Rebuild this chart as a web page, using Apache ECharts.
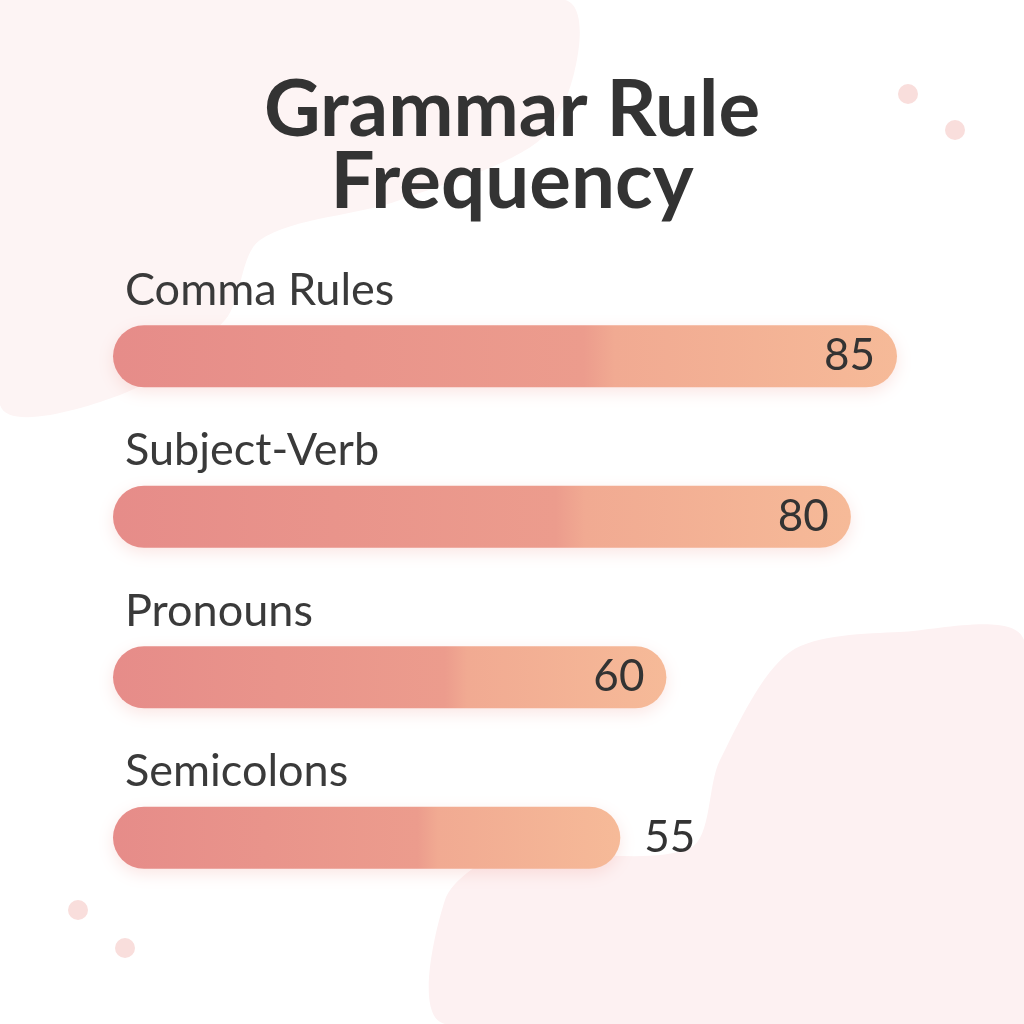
<!DOCTYPE html>
<html>
<head>
<meta charset="utf-8">
<script src="https://cdn.jsdelivr.net/npm/echarts@6/dist/echarts.min.js"></script>
<style>html,body{margin:0;padding:0;background:#fff;}#c{width:1024px;height:1024px;}</style>
</head>
<body>
<div id="c"></div>
<script>
const categories = ['Comma Rules', 'Subject-Verb', 'Pronouns', 'Semicolons'];
const values = [85, 80, 60, 55];
const titleText = 'Grammar Rule\nFrequency';

const chart = echarts.init(document.getElementById('c'), null, {renderer: 'canvas'});

const barGradient = {
  type: 'linear', x: 0, y: 0, x2: 1, y2: 0,
  colorStops: [
    {offset: 0, color: '#E68C89'},
    {offset: 0.6, color: '#EC9C8D'},
    {offset: 0.64, color: '#F1AA92'},
    {offset: 1, color: '#F6BA98'}
  ]
};

const option = {
  backgroundColor: '#ffffff',
  animation: false,
  title: {
    text: titleText,
    left: 'center',
    top: 70,
    textStyle: {
      fontFamily: 'Lato',
      fontWeight: 'bold',
      fontSize: 78,
      lineHeight: 72,
      color: '#333333'
    }
  },
  graphic: [
    {type: 'polygon', z: -10, shape: {smooth: 0.3, points: [[0,0],[565,0],[550,130],[400,200],[260,240],[225,320],[120,395],[0,405]]}, style: {fill: '#FDF4F4'}},
    {type: 'polygon', z: -10, shape: {smooth: 0.3, points: [[445,1024],[445,900],[500,856],[690,848],[720,760],[790,652],[900,632],[1024,640],[1024,1024]]}, style: {fill: '#FDF1F2'}},
    {type: 'circle', z: -5, shape: {cx: 908, cy: 94, r: 10}, style: {fill: '#F9DEDC'}},
    {type: 'circle', z: -5, shape: {cx: 955, cy: 130, r: 10}, style: {fill: '#F9DEDC'}},
    {type: 'circle', z: -5, shape: {cx: 78, cy: 910, r: 10}, style: {fill: '#F9DEDC'}},
    {type: 'circle', z: -5, shape: {cx: 125, cy: 948, r: 10}, style: {fill: '#F9DEDC'}}
  ],
  grid: {left: 113, right: 127, top: 276, bottom: 106, containLabel: false},
  xAxis: {type: 'value', min: 0, max: 85, show: false},
  yAxis: {type: 'category', data: categories, inverse: true, show: false},
  series: [
    {
      type: 'bar',
      data: values.map((v, i) => ({
        value: v,
        label: i === values.length - 1 ? {position: 'right', distance: 24} : {}
      })),
      barWidth: 62,
      itemStyle: {
        color: barGradient,
        borderRadius: 31,
        shadowBlur: 16,
        shadowOffsetY: 5,
        shadowColor: 'rgba(235,140,130,0.22)'
      },
      label: {
        show: true,
        position: 'insideRight',
        distance: 22,
        fontFamily: 'Lato',
        fontSize: 44,
        color: '#333333'
      }
    },
    {
      type: 'bar',
      data: values,
      barWidth: 62,
      barGap: '-100%',
      silent: true,
      itemStyle: {color: 'rgba(0,0,0,0)'},
      label: {
        show: true,
        position: [12, -35],
        formatter: '{b}',
        fontFamily: 'Lato',
        fontSize: 45,
        color: '#3A3A3A',
        verticalAlign: 'middle'
      }
    }
  ]
};
chart.setOption(option);
</script>
</body>
</html>
